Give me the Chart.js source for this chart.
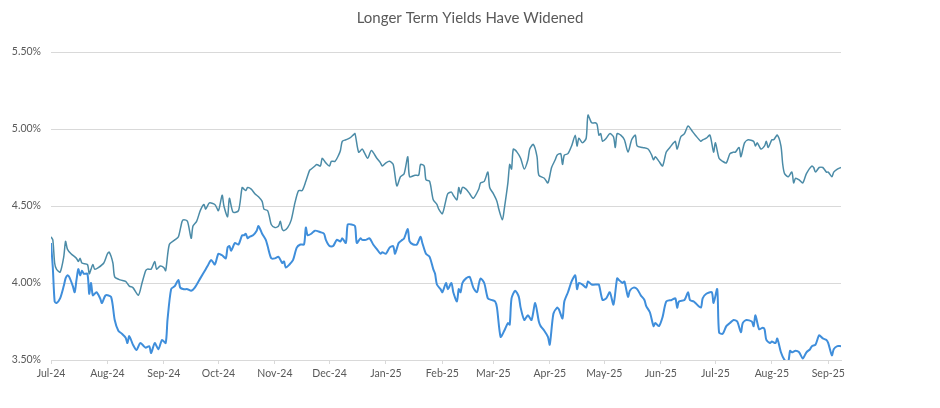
<!DOCTYPE html>
<html>
<head>
<meta charset="utf-8">
<title>Longer Term Yields Have Widened</title>
<script src="https://cdn.jsdelivr.net/npm/chart.js@4.4.1/dist/chart.umd.min.js"></script>
<style>
    html, body { margin: 0; padding: 0; background: #fff; }
    #wrap { width: 940px; height: 408px; }
</style>
</head>
<body>
<div id="wrap"><canvas id="yieldChart" width="940" height="408"></canvas></div>
<script>
// days counted from 1 Jul 2024
const monthDays = [0, 31, 62, 92, 123, 153, 184, 215, 243, 274, 304, 335, 365, 396, 427];
const monthLabels = ['Jul-24', 'Aug-24', 'Sep-24', 'Oct-24', 'Nov-24', 'Dec-24', 'Jan-25', 'Feb-25',
    'Mar-25', 'Apr-25', 'May-25', 'Jun-25', 'Jul-25', 'Aug-25', 'Sep-25'];
const yTicks = [3.5, 4.0, 4.5, 5.0, 5.5];
const chartTitle = 'Longer Term Yields Have Widened';

// upper (longer term) line
const longDays = [0, 1, 2, 3, 5, 7, 8, 9, 11, 14, 15, 16, 17, 20, 21, 22, 23, 24, 26, 29, 31, 32, 34, 35, 38, 41, 43, 45, 48, 50,
    52, 53, 55, 57, 58, 60, 62, 63, 65, 68, 70, 72, 73, 75, 77, 78, 80, 82, 84, 85, 87, 90, 92, 94, 95, 97, 98, 100, 103, 105,
    106, 107, 108, 110, 112, 114, 116, 117, 119, 120, 121, 123, 125, 126, 127, 128, 130, 132, 134, 136, 138, 140, 142, 143, 145, 146, 148, 149, 151, 153,
    154, 156, 158, 159, 160, 162, 164, 166, 167, 169, 171, 172, 174, 176, 179, 181, 182, 184, 186, 188, 190, 192, 194, 196, 197, 200, 202, 203, 205, 206,
    208, 210, 212, 213, 215, 217, 218, 220, 221, 223, 224, 225, 226, 228, 230, 232, 235, 236, 238, 240, 241, 243, 245, 246, 248, 249, 251, 252, 253, 254,
    256, 258, 260, 262, 263, 265, 267, 268, 271, 273, 275, 277, 278, 280, 281, 282, 284, 286, 288, 289, 290, 292, 294, 295, 297, 299, 300, 301, 302, 303,
    305, 307, 309, 310, 311, 313, 315, 317, 319, 321, 322, 325, 328, 330, 331, 332, 334, 336, 338, 340, 342, 343, 344, 346, 348, 350, 352, 354, 357, 358,
    360, 362, 364, 365, 367, 369, 371, 373, 375, 376, 378, 379, 381, 383, 386, 387, 388, 390, 392, 393, 394, 396, 397, 399, 401, 402, 403, 405, 407, 408,
    409, 411, 413, 415, 418, 419, 420, 422, 424, 426, 427, 429, 430, 432, 434];
const longYields = [4.30, 4.28, 4.13, 4.09, 4.07, 4.17, 4.27, 4.22, 4.19, 4.16, 4.14, 4.16, 4.13, 4.12, 4.06, 4.09, 4.12, 4.09, 4.10, 4.13, 4.19, 4.20, 4.13, 4.04, 4.02, 4.01, 3.98, 3.97, 3.92, 4.00,
    4.08, 4.09, 4.09, 4.14, 4.09, 4.11, 4.10, 4.08, 4.25, 4.28, 4.30, 4.40, 4.41, 4.40, 4.29, 4.37, 4.40, 4.47, 4.51, 4.48, 4.52, 4.51, 4.47, 4.57, 4.50, 4.43, 4.55, 4.46, 4.47, 4.62,
    4.61, 4.60, 4.62, 4.61, 4.58, 4.56, 4.53, 4.48, 4.47, 4.43, 4.38, 4.36, 4.37, 4.40, 4.35, 4.34, 4.36, 4.41, 4.52, 4.60, 4.60, 4.66, 4.73, 4.74, 4.76, 4.77, 4.76, 4.81, 4.78, 4.76,
    4.79, 4.79, 4.83, 4.86, 4.92, 4.93, 4.94, 4.96, 4.97, 4.85, 4.87, 4.85, 4.81, 4.86, 4.81, 4.78, 4.76, 4.78, 4.79, 4.77, 4.63, 4.69, 4.71, 4.82, 4.69, 4.70, 4.70, 4.77, 4.76, 4.67,
    4.66, 4.54, 4.51, 4.48, 4.45, 4.54, 4.58, 4.59, 4.57, 4.54, 4.62, 4.58, 4.62, 4.61, 4.58, 4.55, 4.61, 4.65, 4.66, 4.72, 4.62, 4.58, 4.53, 4.48, 4.41, 4.48, 4.65, 4.77, 4.74, 4.87,
    4.85, 4.81, 4.74, 4.80, 4.87, 4.90, 4.82, 4.70, 4.68, 4.65, 4.75, 4.80, 4.83, 4.84, 4.77, 4.83, 4.84, 4.89, 4.96, 4.89, 4.94, 4.91, 4.94, 5.09, 5.04, 5.04, 5.03, 4.96, 4.97, 4.92,
    4.94, 4.97, 4.95, 4.88, 4.97, 4.96, 4.93, 4.85, 4.93, 4.96, 4.89, 4.88, 4.87, 4.83, 4.80, 4.82, 4.79, 4.76, 4.85, 4.88, 4.91, 4.92, 4.87, 4.95, 4.97, 5.02, 4.99, 4.96, 4.92, 4.93,
    4.94, 4.96, 4.85, 4.91, 4.81, 4.79, 4.78, 4.84, 4.85, 4.85, 4.88, 4.82, 4.91, 4.93, 4.92, 4.89, 4.91, 4.87, 4.89, 4.92, 4.88, 4.93, 4.93, 4.96, 4.89, 4.77, 4.71, 4.69, 4.72, 4.65,
    4.68, 4.67, 4.65, 4.71, 4.76, 4.75, 4.72, 4.75, 4.75, 4.72, 4.72, 4.69, 4.72, 4.74, 4.75];

// lower (shorter term) line
const shortDays = [0, 1, 2, 3, 5, 7, 8, 9, 10, 12, 13, 14, 15, 16, 17, 18, 20, 21, 22, 23, 25, 27, 28, 30, 33, 35, 37, 39, 41, 42,
    43, 45, 47, 49, 51, 52, 54, 55, 57, 59, 61, 63, 64, 66, 68, 70, 71, 73, 75, 77, 79, 82, 85, 86, 88, 90, 92, 94, 96, 97,
    98, 99, 101, 103, 105, 106, 107, 108, 109, 111, 113, 114, 116, 118, 119, 121, 123, 125, 127, 128, 129, 131, 133, 135, 137, 139, 140, 141, 143, 145,
    148, 150, 151, 153, 155, 157, 159, 160, 162, 163, 165, 167, 168, 170, 171, 173, 175, 177, 179, 181, 182, 184, 186, 188, 189, 191, 193, 194, 196, 197,
    199, 201, 203, 204, 206, 208, 210, 211, 212, 214, 215, 217, 218, 220, 221, 223, 224, 225, 226, 228, 230, 232, 234, 235, 236, 238, 240, 242, 244, 245,
    247, 249, 251, 252, 253, 255, 257, 258, 260, 262, 264, 266, 268, 269, 271, 273, 274, 276, 278, 279, 281, 282, 284, 286, 288, 289, 290, 292, 294, 295,
    297, 300, 301, 303, 305, 307, 309, 311, 312, 314, 315, 317, 318, 320, 322, 324, 326, 327, 329, 331, 332, 334, 336, 338, 341, 343, 344, 345, 348, 350,
    351, 353, 354, 357, 358, 360, 363, 364, 366, 367, 369, 371, 373, 375, 377, 379, 380, 382, 385, 386, 387, 389, 391, 392, 393, 395, 396, 398, 399, 401,
    403, 405, 406, 407, 409, 411, 413, 415, 417, 418, 420, 422, 424, 426, 427, 429, 430, 432, 434];
const shortYields = [4.26, 4.10, 3.88, 3.87, 3.90, 3.98, 4.03, 4.05, 4.04, 3.98, 3.94, 4.02, 4.09, 4.05, 4.08, 4.06, 4.06, 3.93, 4.00, 3.92, 3.94, 3.90, 3.87, 3.92, 3.91, 3.76, 3.69, 3.67, 3.645, 3.61,
    3.655, 3.60, 3.565, 3.61, 3.59, 3.58, 3.59, 3.545, 3.61, 3.57, 3.63, 3.61, 3.76, 3.96, 3.98, 4.02, 3.97, 3.96, 3.96, 3.95, 3.97, 4.03, 4.09, 4.11, 4.15, 4.12, 4.19, 4.18, 4.16, 4.23,
    4.24, 4.21, 4.26, 4.25, 4.31, 4.31, 4.32, 4.29, 4.30, 4.31, 4.34, 4.37, 4.32, 4.28, 4.24, 4.16, 4.16, 4.17, 4.13, 4.14, 4.10, 4.12, 4.15, 4.23, 4.25, 4.25, 4.36, 4.31, 4.32, 4.34,
    4.33, 4.32, 4.28, 4.24, 4.24, 4.28, 4.27, 4.29, 4.26, 4.38, 4.38, 4.37, 4.26, 4.29, 4.28, 4.28, 4.29, 4.25, 4.22, 4.19, 4.20, 4.19, 4.23, 4.24, 4.19, 4.26, 4.28, 4.29, 4.35, 4.27,
    4.25, 4.25, 4.30, 4.26, 4.19, 4.17, 4.09, 4.06, 3.99, 3.96, 3.94, 4.00, 3.96, 4.00, 3.94, 3.88, 3.96, 3.94, 4.00, 4.03, 4.04, 3.97, 3.94, 3.99, 4.03, 4.00, 3.90, 3.89, 3.88, 3.84,
    3.65, 3.69, 3.74, 3.73, 3.90, 3.95, 3.91, 3.84, 3.76, 3.79, 3.76, 3.87, 3.75, 3.72, 3.69, 3.65, 3.60, 3.80, 3.84, 3.83, 3.77, 3.88, 3.94, 4.01, 4.05, 3.96, 4.00, 3.99, 3.97, 4.01,
    3.99, 3.99, 3.99, 3.89, 3.90, 3.94, 3.86, 4.03, 4.02, 4.00, 4.01, 3.91, 3.95, 3.97, 3.96, 3.92, 3.89, 3.85, 3.81, 3.72, 3.74, 3.72, 3.78, 3.88, 3.89, 3.90, 3.84, 3.88, 3.89, 3.94,
    3.89, 3.88, 3.87, 3.84, 3.90, 3.93, 3.94, 3.87, 3.96, 3.68, 3.67, 3.72, 3.74, 3.76, 3.75, 3.68, 3.74, 3.76, 3.75, 3.72, 3.79, 3.70, 3.71, 3.70, 3.63, 3.61, 3.62, 3.61, 3.64, 3.55,
    3.50, 3.49, 3.56, 3.55, 3.56, 3.55, 3.51, 3.55, 3.57, 3.59, 3.60, 3.66, 3.64, 3.63, 3.61, 3.53, 3.57, 3.59, 3.59];

const toPoints = (days, vals) => days.map((d, i) => ({ x: d, y: vals[i] }));

const FONT = 'Lato, "Open Sans", sans-serif';
const GREY = '#595959';

// title is centred on the whole canvas, not on the plot box
const pageTitle = {
    id: 'pageTitle',
    afterDraw(chart) {
        const c = chart.ctx;
        c.save();
        c.font = '15px ' + FONT;
        c.fillStyle = GREY;
        c.textAlign = 'center';
        c.textBaseline = 'middle';
        c.fillText(chartTitle, chart.width / 2, 18);
        c.restore();
    }
};

new Chart(document.getElementById('yieldChart'), {
    type: 'line',
    data: {
        datasets: [
            {
                label: 'Long',
                data: toPoints(longDays, longYields),
                borderColor: '#4b8ba7',
                borderWidth: 1.5,
                pointRadius: 0,
                tension: 0.25
            },
            {
                label: 'Short',
                data: toPoints(shortDays, shortYields),
                borderColor: '#3f8edb',
                borderWidth: 2,
                pointRadius: 0,
                tension: 0.25
            }
        ]
    },
    options: {
        responsive: false,
        animation: false,
        layout: { padding: { left: 0, right: 99, top: 52, bottom: 0 } },
        plugins: {
            legend: { display: false },
            tooltip: { enabled: false },
            title: { display: false }
        },
        scales: {
            x: {
                type: 'linear',
                min: 0,
                max: 434,
                afterBuildTicks: axis => { axis.ticks = monthDays.map(v => ({ value: v })); },
                afterFit: axis => { axis.height = 48; },
                grid: { display: true, drawOnChartArea: false, drawTicks: true, tickLength: 4, color: '#d9d9d9' },
                border: { display: true, color: '#d9d9d9', width: 1 },
                ticks: {
                    color: GREY,
                    font: { family: FONT, size: 10.5 },
                    maxRotation: 0,
                    autoSkip: false,
                    padding: 3,
                    callback: v => monthLabels[monthDays.indexOf(v)]
                }
            },
            y: {
                min: 3.5,
                max: 5.5,
                afterBuildTicks: axis => { axis.ticks = yTicks.map(v => ({ value: v })); },
                afterFit: axis => { axis.width = 51; },
                grid: { color: '#d9d9d9', drawTicks: false },
                border: { display: false },
                ticks: {
                    color: GREY,
                    font: { family: FONT, size: 10.5 },
                    padding: 10,
                    callback: v => v.toFixed(2) + '%'
                }
            }
        }
    },
    plugins: [pageTitle]
});
</script>
</body>
</html>
